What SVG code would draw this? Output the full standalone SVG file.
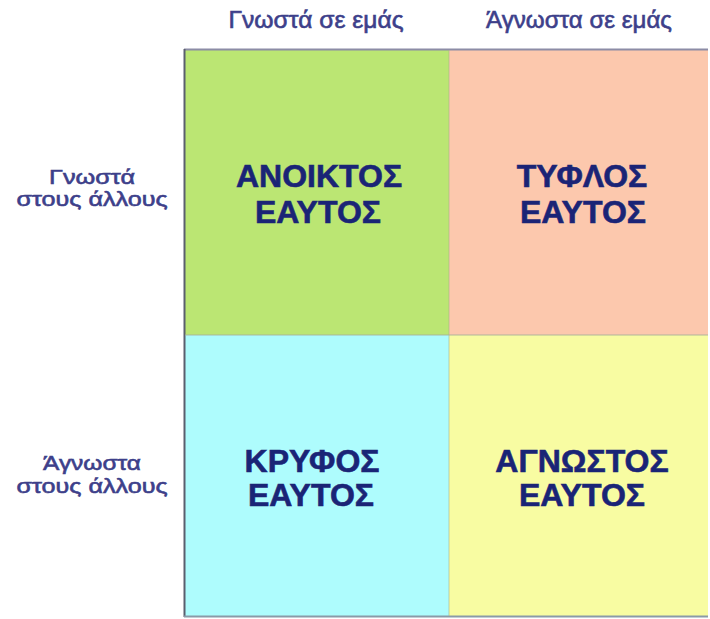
<svg xmlns="http://www.w3.org/2000/svg" width="710" height="619" viewBox="0 0 710 619">
<style>
.hdr{font-family:"Liberation Sans",Arial,sans-serif;font-size:23px;fill:#3d3f8a;stroke:#3d3f8a;stroke-width:0.6;text-anchor:middle}
.side{font-family:"Liberation Sans",Arial,sans-serif;font-size:20px;fill:#3d3f8a;stroke:#3d3f8a;stroke-width:0.6;text-anchor:middle}
.q{font-family:"Liberation Sans",Arial,sans-serif;font-size:32px;font-weight:bold;fill:#1a2476;stroke:#1a2476;stroke-width:0.6;text-anchor:middle}
</style>
<rect width="710" height="619" fill="#ffffff"/>
<g id="headers">
<text class="hdr" x="316" y="28" textLength="175" lengthAdjust="spacingAndGlyphs">Γνωστά σε εμάς</text>
<text class="hdr" x="579" y="28" textLength="186" lengthAdjust="spacingAndGlyphs">Άγνωστα σε εμάς</text>
</g>
<g id="row-labels">
<text class="side" x="92" y="184" textLength="86" lengthAdjust="spacingAndGlyphs">Γνωστά</text>
<text class="side" x="92" y="206" textLength="151" lengthAdjust="spacingAndGlyphs">στους άλλους</text>
<text class="side" x="92" y="470" textLength="98" lengthAdjust="spacingAndGlyphs">Άγνωστα</text>
<text class="side" x="92" y="493" textLength="151" lengthAdjust="spacingAndGlyphs">στους άλλους</text>
</g>
<g id="open">
<rect x="184" y="49" width="265" height="286" fill="#bbe673"/>
<text class="q" x="319" y="187">ΑΝΟΙΚΤΟΣ</text>
<text class="q" x="318" y="223">ΕΑΥΤΟΣ</text>
</g>
<g id="blind">
<rect x="449" y="49" width="259" height="286" fill="#fcc8ad"/>
<text class="q" x="582" y="187">ΤΥΦΛΟΣ</text>
<text class="q" x="583" y="223">ΕΑΥΤΟΣ</text>
</g>
<g id="hidden">
<rect x="184" y="335" width="265" height="281" fill="#aefcfd"/>
<text class="q" x="312" y="472">ΚΡΥΦΟΣ</text>
<text class="q" x="311" y="506">ΕΑΥΤΟΣ</text>
</g>
<g id="unknown">
<rect x="449" y="335" width="259" height="281" fill="#f8fca2"/>
<text class="q" x="582" y="472">ΑΓΝΩΣΤΟΣ</text>
<text class="q" x="582" y="506">ΕΑΥΤΟΣ</text>
</g>
<g id="lines" fill="none">
<line x1="184" y1="49.5" x2="708" y2="49.5" stroke="#8c8ca6" stroke-width="2"/>
<line x1="184.5" y1="49" x2="184.5" y2="617" stroke="#5a5f6e" stroke-width="2"/>
<line x1="184" y1="616.5" x2="708" y2="616.5" stroke="#8a9aa8" stroke-width="2"/>
<line x1="449" y1="50" x2="449" y2="616" stroke="#a8b08a" stroke-width="1" opacity="0.6"/>
<line x1="185" y1="335" x2="708" y2="335" stroke="#a6b09a" stroke-width="1.5" opacity="0.6"/>
</g>
</svg>
